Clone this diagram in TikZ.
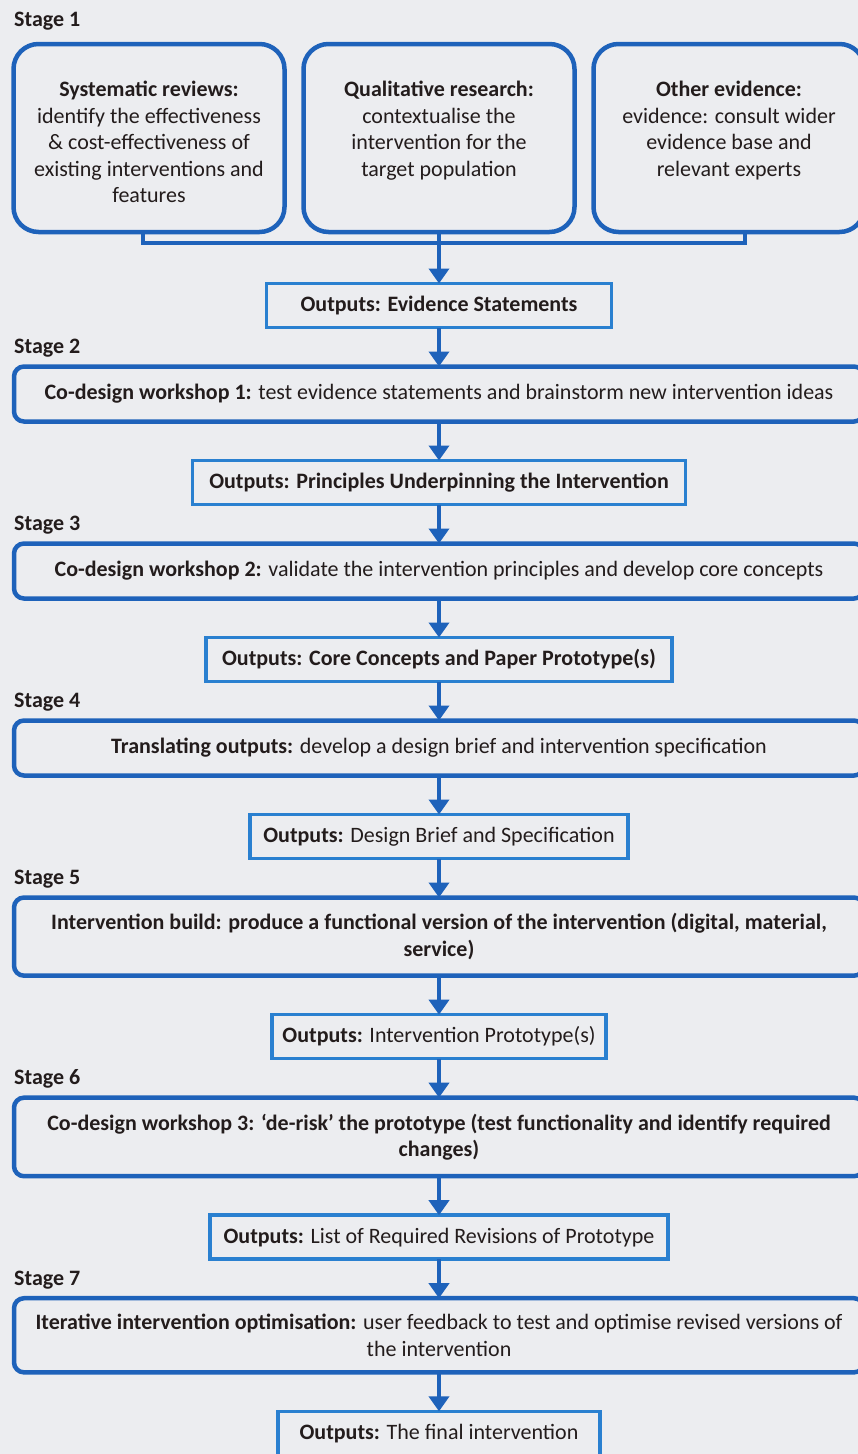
\documentclass[tikz,border=0pt]{standalone}
\usepackage{fontspec}
\setmainfont{Carlito}
\usetikzlibrary{arrows.meta,positioning}
\definecolor{stageblue}{RGB}{30,98,186}
\definecolor{outblue}{RGB}{42,128,208}
\definecolor{paper}{RGB}{236,237,240}
\definecolor{ink}{RGB}{35,28,28}

\begin{document}
\begin{tikzpicture}[x=1pt,y=-1pt,>={Triangle[width=20pt,length=15pt]},
  every node/.style={font=\fontsize{22}{26.5}\selectfont,text=ink},
  evbox/.style={draw=stageblue,line width=4.5pt,rounded corners=25pt,minimum width=271pt,minimum height=188pt,outer sep=0pt},
  evtext/.style={align=center,inner sep=0pt},
  stagebox/.style={draw=stageblue,line width=4.5pt,rounded corners=10pt,minimum width=850pt,minimum height=55pt,inner ysep=16pt,outer sep=0pt,align=center},
  outbox/.style={draw=outblue,line width=3.5pt,minimum height=44pt,inner xsep=4pt,outer sep=0pt},
  stagelbl/.style={font=\fontsize{22}{26.5}\selectfont\bfseries,inner sep=0pt,anchor=base west},
  link/.style={draw=stageblue,line width=4.5pt},
  node distance=39pt]
\useasboundingbox (0,0) rectangle (858,1454);
\clip (0,0) rectangle (858,1454);
\fill[paper] (0,0) rectangle (858,1454);

\node[stagelbl] (lbl1) at (14,26) {Stage 1};
\node[evbox] (qual) at (439,138) {};
\node[evbox,left=19pt of qual] (sysrev) {};
\node[evbox,right=19pt of qual] (other) {};
\node[evtext,below=37pt of sysrev.north] (sysrevtxt) {\textbf{Systematic reviews:}\\identify the effectiveness\\\& cost-effectiveness of\\existing interventions and\\features};
\node[evtext,below=37pt of qual.north] (qualtxt) {\textbf{Qualitative research:}\\contextualise the\\intervention for the\\target population};
\node[evtext,below=37pt of other.north] (othertxt) {\textbf{Other evidence:}\\evidence: consult wider\\evidence base and\\relevant experts};
\coordinate (bar) at (439,243);
\draw[link] ([xshift=-6pt]sysrev.south) |- (bar) -| ([xshift=16pt]other.south);
\node[outbox,minimum width=345pt] (out1) at (439,305.5) {\textbf{Outputs: Evidence Statements}};
\draw[link,->] (qual) -- (out1);

\node[stagebox,below=of out1] (stg2) {\textbf{Co-design workshop 1:} test evidence statements and brainstorm new intervention ideas};
\node[stagelbl] (lbl2) at ([yshift=13pt]stg2.north west) {Stage 2};
\node[outbox,minimum width=493pt,below=of stg2] (out2) {\textbf{Outputs: Principles Underpinning the Intervention}};

\node[stagebox,below=of out2] (stg3) {\textbf{Co-design workshop 2:} validate the intervention principles and develop core concepts};
\node[stagelbl] (lbl3) at ([yshift=13pt]stg3.north west) {Stage 3};
\node[outbox,minimum width=466pt,below=of stg3] (out3) {\textbf{Outputs: Core Concepts and Paper Prototype(s)}};

\node[stagebox,below=of out3] (stg4) {\textbf{Translating outputs:} develop a design brief and intervention specification};
\node[stagelbl] (lbl4) at ([yshift=13pt]stg4.north west) {Stage 4};
\node[outbox,minimum width=378pt,below=of stg4] (out4) {\textbf{Outputs:} Design Brief and Specification};

\node[stagebox,below=of out4] (stg5) {\textbf{Intervention build: produce a functional version of the intervention (digital, material,}\\\textbf{service)}};
\node[stagelbl] (lbl5) at ([yshift=13pt]stg5.north west) {Stage 5};
\node[outbox,minimum width=334pt,below=of stg5] (out5) {\textbf{Outputs:} Intervention Prototype(s)};

\node[stagebox,below=of out5] (stg6) {\textbf{Co-design workshop 3: ‘de-risk’ the prototype (test functionality and identify required}\\\textbf{changes)}};
\node[stagelbl] (lbl6) at ([yshift=13pt]stg6.north west) {Stage 6};
\node[outbox,minimum width=458pt,below=of stg6] (out6) {\textbf{Outputs:} List of Required Revisions of Prototype};

\node[stagebox,below=of out6] (stg7) {\textbf{Iterative intervention optimisation:} user feedback to test and optimise revised versions of\\the intervention};
\node[stagelbl] (lbl7) at ([yshift=13pt]stg7.north west) {Stage 7};
\node[outbox,minimum width=322pt,below=of stg7] (out7) {\textbf{Outputs:} The final intervention};

\draw[link,->] (out1) -- (stg2);
\draw[link,->] (stg2) -- (out2);
\draw[link,->] (out2) -- (stg3);
\draw[link,->] (stg3) -- (out3);
\draw[link,->] (out3) -- (stg4);
\draw[link,->] (stg4) -- (out4);
\draw[link,->] (out4) -- (stg5);
\draw[link,->] (stg5) -- (out5);
\draw[link,->] (out5) -- (stg6);
\draw[link,->] (stg6) -- (out6);
\draw[link,->] (out6) -- (stg7);
\draw[link,->] (stg7) -- (out7);
\end{tikzpicture}
\end{document}
